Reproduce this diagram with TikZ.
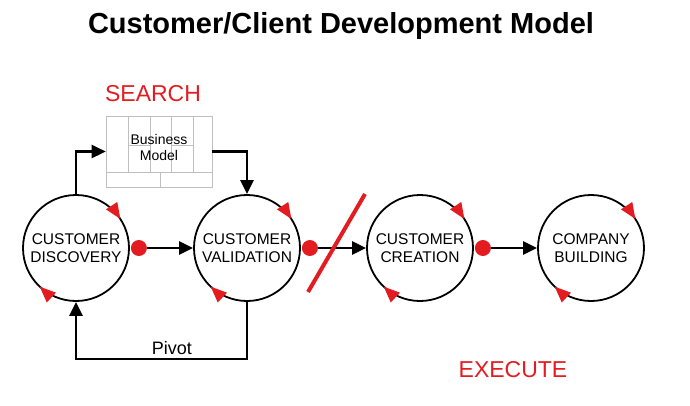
\documentclass[tikz,border=0pt]{standalone}
\usepackage{fontspec}
\setmainfont{Liberation Sans}
\usetikzlibrary{arrows.meta, positioning, calc, decorations.markings}
\definecolor{sred}{RGB}{226,28,32}

\begin{document}
\begin{tikzpicture}[x=1pt, y=-1pt,
  stage/.style={circle, draw=black, line width=1.8pt, minimum size=106pt,
              inner sep=0pt, align=center, font=\fontsize{15.5}{18}\selectfont,
              postaction={decorate, decoration={markings,
                mark=at position 0.092 with {\arrowreversed[sred]{Triangle[length=16pt, width=13pt]}},
                mark=at position 0.63 with {\arrowreversed[sred]{Triangle[length=16pt, width=13pt]}}}}},
  dot/.style={circle, fill=sred, minimum size=16pt, inner sep=0pt, outer sep=0pt},
  arr/.style={-{Triangle[length=14pt, width=13pt]}, line width=2.6pt, black},
  canvas/.style={rectangle, draw=black!25, line width=0.6pt,
              minimum width=106pt, minimum height=71pt, inner sep=0pt},
  grid/.style={draw=black!25, line width=0.6pt},
  phase/.style={font=\fontsize{23}{26}\selectfont, text=sred, anchor=base},
  slash/.style={sred, line width=4pt}
]
\useasboundingbox (0,0) rectangle (690,405);
%% Title and phases
\node[font=\bfseries\fontsize{29}{33}\selectfont, anchor=base] (ti) at (341,33) {Customer/Client Development Model};
\node[phase] (se) at (153,101) {SEARCH};
\node[phase] (ex) at (513,377) {EXECUTE};
%% Business model canvas
\node[canvas] (bm) at (159,151.5) {};
\foreach \x in {128, 150, 171, 193}{
  \draw[grid] (\x,116) -- (\x,172);}
\draw[grid] (128,145) -- (150,145);
\draw[grid] (171,145) -- (193,145);
\draw[grid] (106,172) -- (212,172);
\draw[grid] (160,172) -- (160,187);
\node[align=center, font=\fontsize{14}{16}\selectfont] (bt) at (159,147) {Business\\Model};
%% Stages
\node[stage] (cd) at (76,248)  {CUSTOMER\\DISCOVERY};
\node[stage] (cv) at (247,248) {CUSTOMER\\VALIDATION};
\node[stage] (cc) at (420,248) {CUSTOMER\\CREATION};
\node[stage] (cb) at (591,248) {COMPANY\\BUILDING};
%% Exit dots
\node[dot, right=1pt of cd.east] (d1) {};
\node[dot, right=1pt of cv.east] (d2) {};
\node[dot, right=1pt of cc.east] (d3) {};
\draw[arr] (d1) -- (cv);
\draw[arr] (d2) -- (cc);
\draw[arr] (d3) -- (cb);
\draw[slash] (308,292) -- (365,194);
%% Loops
\draw[arr] (cd.north) |- (bm.west);
\draw[arr] (bm.east) -| (cv.north);
\draw[arr] (cv.south) -- ++(0,57) -| node[pos=0.22, above, font=\fontsize{18}{20}\selectfont] (pv) {Pivot} (cd.south);
\end{tikzpicture}
\end{document}
